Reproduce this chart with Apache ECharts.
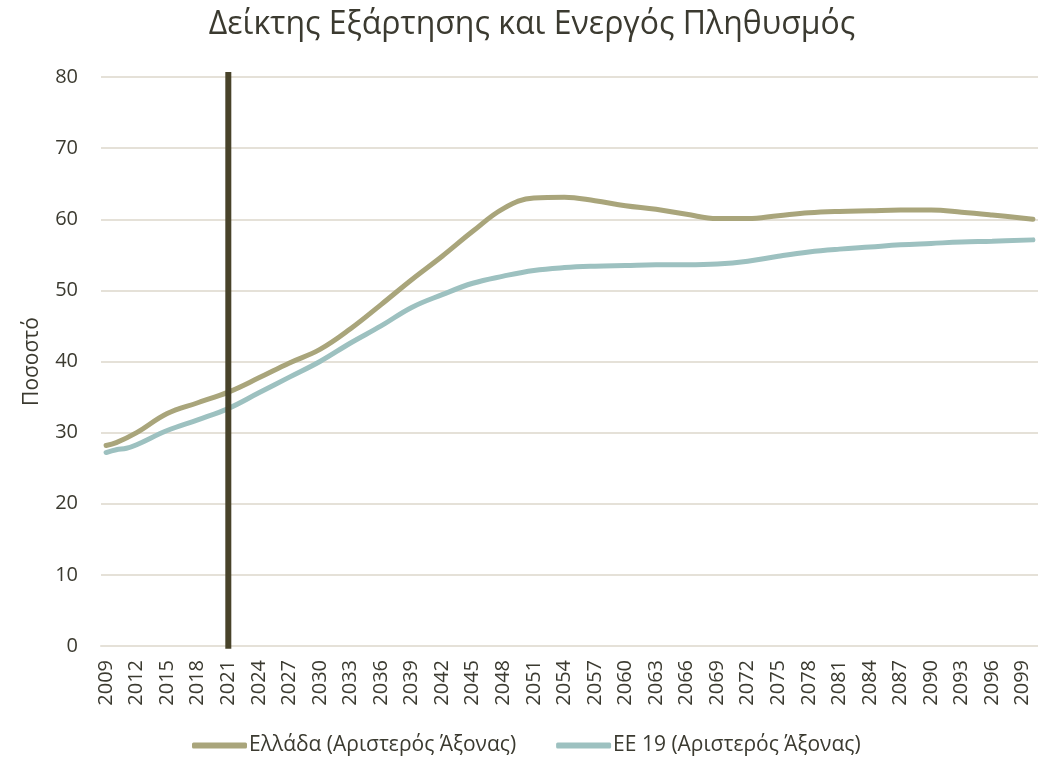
<!DOCTYPE html>
<html>
<head>
<meta charset="utf-8">
<script src="https://cdn.jsdelivr.net/npm/echarts@6/dist/echarts.min.js"></script>
<style>
  html, body { margin: 0; padding: 0; background: #fff; }
  #chart { width: 1038px; height: 765px; }
</style>
</head>
<body>
<div id="chart"></div>
<script>
// years on the category axis
const startYear = 2009;
const endYear = 2100;
const markYear = "2021";

// values (year, percent)
const greeceYears = [2009, 2010, 2012, 2015, 2018, 2021, 2024, 2027, 2030, 2033, 2036, 2039, 2042, 2045, 2048, 2051, 2054, 2057, 2060, 2063, 2066, 2069, 2072, 2075, 2078, 2081, 2084, 2087, 2090, 2093, 2096, 2100];
const greeceValues = [28.2, 28.6, 30.0, 32.7, 34.2, 35.7, 37.7, 39.8, 41.7, 44.6, 48.0, 51.5, 54.8, 58.3, 61.5, 63.0, 63.1, 62.6, 61.9, 61.4, 60.7, 60.1, 60.1, 60.5, 60.9, 61.1, 61.2, 61.3, 61.3, 61.0, 60.6, 60.0];

const eu19Years = [2009, 2010, 2011, 2012, 2015, 2018, 2021, 2024, 2027, 2030, 2033, 2036, 2039, 2042, 2045, 2048, 2051, 2054, 2057, 2060, 2063, 2066, 2069, 2072, 2075, 2078, 2081, 2084, 2087, 2090, 2093, 2096, 2100];
const eu19Values = [27.2, 27.6, 27.8, 28.3, 30.3, 31.8, 33.4, 35.6, 37.8, 40.0, 42.6, 45.0, 47.6, 49.4, 51.0, 52.0, 52.8, 53.2, 53.4, 53.5, 53.6, 53.6, 53.7, 54.1, 54.8, 55.4, 55.8, 56.1, 56.4, 56.6, 56.8, 56.9, 57.1];

const seriesNames = ["Ελλάδα (Αριστερός Άξονας)", "ΕΕ 19 (Αριστερός Άξονας)"];

const categories = [];
for (let y = startYear; y <= endYear; y++) categories.push(String(y));

function toSeries(years, values) {
  const out = categories.map(() => null);
  years.forEach((y, i) => { out[y - startYear] = values[i]; });
  return out;
}

const textColor = "#3b3a30";
const font = "'Open Sans', 'Noto Sans', sans-serif";

const chart = echarts.init(document.getElementById("chart"), null, { renderer: "canvas" });
chart.setOption({
  animation: false,
  backgroundColor: "#ffffff",
  textStyle: { fontFamily: font, color: textColor },
  title: {
    text: "Δείκτης Εξάρτησης και Ενεργός Πληθυσμός",
    left: 527,
    textAlign: "center",
    top: 4,
    textStyle: { fontFamily: font, fontSize: 32, fontWeight: "normal", color: textColor }
  },
  grid: { left: 101, right: 0, top: 77, bottom: 119 },
  legend: {
    data: seriesNames,
    bottom: 4,
    left: 187,
    itemGap: 40,
    itemWidth: 55,
    itemHeight: 6,
    icon: "roundRect",
    textStyle: { fontFamily: font, fontSize: 21, color: textColor, padding: [0, 0, 0, -3] }
  },
  xAxis: {
    type: "category",
    data: categories,
    boundaryGap: true,
    axisLine: { show: true, lineStyle: { color: "#e5e1d8", width: 2 } },
    axisTick: { show: false },
    axisLabel: {
      interval: 2,
      rotate: 90,
      margin: 14,
      fontSize: 20,
      color: textColor,
      fontFamily: font
    }
  },
  yAxis: {
    type: "value",
    min: 0,
    max: 80,
    interval: 10,
    name: "Ποσοστό",
    nameLocation: "middle",
    nameGap: 58,
    nameRotate: 90,
    nameTextStyle: { fontSize: 21, color: textColor, fontFamily: font },
    axisLine: { show: false },
    axisTick: { show: false },
    axisLabel: { fontSize: 20, color: textColor, margin: 23, fontFamily: font },
    splitLine: { lineStyle: { color: "#e5e1d8", width: 2 } }
  },
  series: [
    {
      name: seriesNames[0],
      type: "line",
      data: toSeries(greeceYears, greeceValues),
      connectNulls: true,
      smooth: 0.4,
      showSymbol: false,
      symbol: "none",
      color: "#a9a57b",
      lineStyle: { color: "#a9a57b", width: 5, cap: "round" },
      z: 3
    },
    {
      name: seriesNames[1],
      type: "line",
      data: toSeries(eu19Years, eu19Values),
      connectNulls: true,
      smooth: 0.4,
      showSymbol: false,
      symbol: "none",
      color: "#9dc1c0",
      lineStyle: { color: "#9dc1c0", width: 5, cap: "round" },
      z: 2
    },
    {
      name: "2021",
      type: "line",
      data: [[markYear, 80.7], [markYear, -0.4]],
      symbol: "none",
      clip: false,
      silent: true,
      lineStyle: { color: "#48432a", width: 6 },
      z: 4
    }
  ]
});
</script>
</body>
</html>
